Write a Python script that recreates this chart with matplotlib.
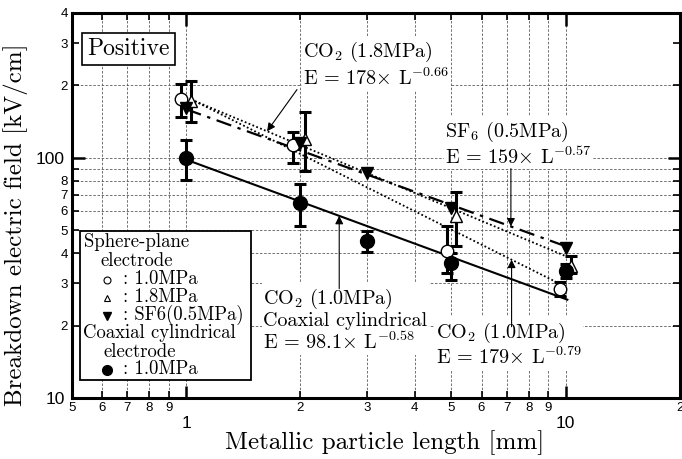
import numpy as np
import matplotlib
matplotlib.use('Agg')
import matplotlib.pyplot as plt
from matplotlib.ticker import LogLocator, FuncFormatter
from matplotlib.patches import Rectangle

plt.rcParams['font.family'] = 'Liberation Sans'
plt.rcParams['mathtext.fontset'] = 'cm'
plt.rcParams['axes.unicode_minus'] = False
SERIF = 'cmr10'

# sphere-plane electrode, CO2 1.0MPa (open circles)
L_co2_10 = [0.97, 1.91, 4.86, 9.65]
E_co2_10 = [176, 113, 41, 28.5]
lo_co2_10 = [148, 95, 33, 26.5]
hi_co2_10 = [203, 128, 52, 30.5]

# sphere-plane electrode, CO2 1.8MPa (open triangles)
L_co2_18 = [1.03, 2.06, 5.13, 10.3]
E_co2_18 = [172, 120, 57, 35.5]
lo_co2_18 = [141, 88, 43, 33]
hi_co2_18 = [209, 155, 72, 39]

# sphere-plane electrode, SF6 0.5MPa (filled triangles)
L_sf6 = [1.0, 2.0, 3.0, 5.0, 10.0]
E_sf6 = [161, 115, 86.5, 62, 42]

# coaxial cylindrical electrode, CO2 1.0MPa (filled circles)
L_coax = [1.0, 2.0, 3.0, 5.0, 10.0]
E_coax = [100, 65, 45, 36.5, 33.8]
lo_coax = [81, 52, 40.6, 31, 31.5]
hi_coax = [119, 78, 49.6, 40, 36]

# fitted curves E = a * L^b
fit_co2_18 = (178, -0.66)
fit_co2_10 = (179, -0.79)
fit_sf6 = (159, -0.57)
fit_coax = (98.1, -0.58)


def fit(ab, L):
    return ab[0] * np.asarray(L) ** ab[1]


fig = plt.figure(figsize=(6.82, 4.59), dpi=100)
ax = fig.add_axes([0.1056, 0.1329, 0.8914, 0.8388])
ax.set_xscale('log')
ax.set_yscale('log')
ax.set_xlim(0.5, 20)
ax.set_ylim(10, 400)

# fit lines
Lf = np.logspace(0, 1, 50)
Lf2 = np.logspace(np.log10(1.03), 1, 50)
ax.plot(Lf2, fit(fit_co2_18, Lf2), color='k', lw=1.3, ls=(0, (1, 1.3)), zorder=2)
ax.plot(Lf2, fit(fit_co2_10, Lf2), color='k', lw=1.3, ls=(0, (1, 1.3)), zorder=2)
ax.plot(Lf, fit(fit_sf6, Lf), color='k', lw=1.6, ls=(0, (7, 3, 1.5, 3)), zorder=2)
Lc = np.logspace(0, np.log10(10.1), 50)
ax.plot(Lc, fit(fit_coax, Lc), color='k', lw=1.5, zorder=2)

# measured points with scatter bars
eb = dict(fmt='none', ecolor='k', elinewidth=2.2, capsize=4.5, capthick=2.2, zorder=3)


def yerr(E, lo, hi):
    E = np.array(E)
    return [E - np.array(lo), np.array(hi) - E]


ax.errorbar(L_co2_10, E_co2_10, yerr=yerr(E_co2_10, lo_co2_10, hi_co2_10), **eb)
ax.errorbar(L_co2_18, E_co2_18, yerr=yerr(E_co2_18, lo_co2_18, hi_co2_18), **eb)
ax.errorbar(L_coax, E_coax, yerr=yerr(E_coax, lo_coax, hi_coax), **eb)

ax.plot(L_co2_10, E_co2_10, 'o', ms=9, mfc='white', mec='k', mew=1.0, ls='none', zorder=4)
ax.plot(L_co2_18, E_co2_18, '^', ms=9, mfc='white', mec='k', mew=1.0, ls='none', zorder=4)
ax.plot(L_sf6, E_sf6, 'v', ms=9, mfc='k', mec='k', ls='none', zorder=4)
ax.plot(L_coax, E_coax, 'o', ms=10, mfc='k', mec='k', ls='none', zorder=4)

# axes, ticks, grid
for s in ax.spines.values():
    s.set_linewidth(2.2)

ax.xaxis.set_major_locator(LogLocator(base=10, numticks=10))
ax.xaxis.set_minor_locator(LogLocator(base=10, subs=np.arange(2, 10), numticks=20))
ax.yaxis.set_major_locator(LogLocator(base=10, numticks=10))
ax.yaxis.set_minor_locator(LogLocator(base=10, subs=np.arange(2, 10), numticks=20))


def lead_digit(v):
    return int(round(v / 10 ** np.floor(np.log10(v) + 1e-9)))


ax.xaxis.set_major_formatter(FuncFormatter(lambda v, p: f'{v:g}'))
ax.yaxis.set_major_formatter(FuncFormatter(lambda v, p: f'{v:g}'))
ax.xaxis.set_minor_formatter(FuncFormatter(lambda v, p: str(lead_digit(v))))
ax.yaxis.set_minor_formatter(FuncFormatter(
    lambda v, p: '' if lead_digit(v) == 9 else str(lead_digit(v))))

ax.tick_params(which='both', direction='in', top=True, right=True)
ax.tick_params(which='major', length=9, width=1.8, labelsize=12.5)
ax.tick_params(which='minor', length=5, width=1.2, labelsize=9.5)
ax.tick_params(axis='x', which='major', pad=13)
ax.tick_params(axis='x', which='minor', pad=3)
ax.tick_params(axis='y', which='major', pad=5)
ax.tick_params(axis='y', which='minor', pad=3)

ax.grid(which='both', ls=(0, (3, 2)), lw=0.6, color='0.35')

ax.set_xlabel('Metallic particle length [mm]', family=SERIF, fontsize=18)
ax.set_ylabel('Breakdown electric field [kV/cm]', family=SERIF, fontsize=18)
ax.xaxis.set_label_coords(0.515, -0.085)
ax.yaxis.set_label_coords(-0.072, 0.45)

# annotations
ax.text(0.025, 0.906, 'Positive', transform=ax.transAxes, family=SERIF, fontsize=17,
        va='center', ha='left',
        bbox=dict(boxstyle='square,pad=0.22', fc='white', ec='k', lw=1.2), zorder=5)

tbox = dict(fc='white', ec='none', pad=1)
arrow = dict(arrowstyle='-|>', color='k', lw=0.8, mutation_scale=12, shrinkA=0, shrinkB=0)
tk = dict(family=SERIF, fontsize=14.5, va='center', ha='left', bbox=tbox, zorder=3)

ax.text(2.03, 244, 'CO$_2$ (1.8MPa)\nE = 178$\\times$ L$^{-0.66}$', linespacing=1.2, **tk)
ax.annotate('', xy=(1.633, fit(fit_co2_18, 1.633)), xytext=(1.958, 192), arrowprops=arrow)

ax.text(4.81, 114, 'SF$_6$ (0.5MPa)\nE = 159$\\times$ L$^{-0.57}$', linespacing=1.1, **tk)
ax.annotate('', xy=(7.17, fit(fit_sf6, 7.17)), xytext=(7.17, 90), arrowprops=arrow)

ax.text(1.594, 21.1, 'CO$_2$ (1.0MPa)\nCoaxial cylindrical\nE = 98.1$\\times$ L$^{-0.58}$',
        linespacing=1.1, **tk)
ax.annotate('', xy=(2.53, fit(fit_coax, 2.53)), xytext=(2.53, 28.5), arrowprops=arrow)

ax.text(4.54, 16.7, 'CO$_2$ (1.0MPa)\nE = 179$\\times$ L$^{-0.79}$', linespacing=1.1, **tk)
ax.annotate('', xy=(7.2, fit(fit_co2_10, 7.2)), xytext=(7.2, 19.8), arrowprops=arrow)

# key box
ax.add_patch(Rectangle((0.013, 0.047), 0.281, 0.387, transform=ax.transAxes,
                       fc='white', ec='k', lw=1.3, zorder=5))
kw = dict(transform=ax.transAxes, family=SERIF, fontsize=13.5, va='center', ha='left', zorder=6)
ax.text(0.019, 0.405, 'Sphere-plane', **kw)
ax.text(0.047, 0.355, 'electrode', **kw)
ax.text(0.084, 0.308, ': 1.0MPa', **kw)
ax.text(0.084, 0.262, ': 1.8MPa', **kw)
ax.text(0.084, 0.215, ': SF6(0.5MPa)', **kw)
ax.text(0.018, 0.168, 'Coaxial cylindrical', **kw)
ax.text(0.052, 0.120, 'electrode', **kw)
ax.text(0.084, 0.074, ': 1.0MPa', **kw)
mk = dict(transform=ax.transAxes, ls='none', zorder=6, clip_on=False)
ax.plot([0.057], [0.306], 'o', ms=5, mfc='white', mec='k', mew=0.8, **mk)
ax.plot([0.057], [0.260], '^', ms=5, mfc='white', mec='k', mew=0.8, **mk)
ax.plot([0.057], [0.213], 'v', ms=6, mfc='k', mec='k', **mk)
ax.plot([0.057], [0.073], 'o', ms=7, mfc='k', mec='k', **mk)

# no grid line at 300
fig.canvas.draw()
for t, loc in zip(ax.yaxis.get_minor_ticks(), ax.yaxis.get_minorticklocs()):
    if abs(loc - 300) < 1:
        t.gridline.set_visible(False)

fig.savefig('out.png', dpi=100)
